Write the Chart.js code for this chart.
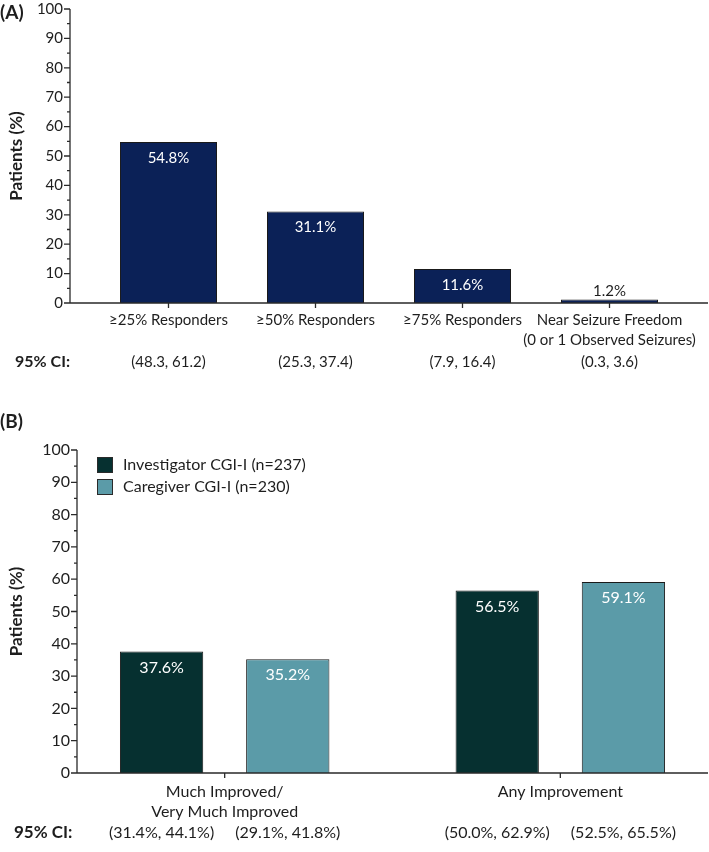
<!DOCTYPE html>
<html>
<head>
<meta charset="utf-8">
<script src="https://cdn.jsdelivr.net/npm/chart.js@4.4.1/dist/chart.umd.min.js"></script>
<style>
  body { margin: 0; background: #fff; }
  #wrap { position: relative; width: 709px; height: 852px; }
  canvas { position: absolute; left: 0; }
  #chartA { top: 0; }
  #chartB { top: 380px; }
</style>
</head>
<body>
<div id="wrap">
  <canvas id="chartA" width="709" height="380"></canvas>
  <canvas id="chartB" width="709" height="472"></canvas>
</div>
<script>
// dados do painel A
const categoriasA = ['≥25% Responders', '≥50% Responders', '≥75% Responders', ['Near Seizure Freedom', '(0 or 1 Observed Seizures)']];
const respondedores = [54.8, 31.1, 11.6, 1.2];
const icA = ['(48.3, 61.2)', '(25.3, 37.4)', '(7.9, 16.4)', '(0.3, 3.6)'];

// dados do painel B
const categoriasB = [['Much Improved/', 'Very Much Improved'], 'Any Improvement'];
const seriesB = ['Investigator CGI-I (n=237)', 'Caregiver CGI-I (n=230)'];
const investigador = [37.6, 56.5];
const cuidador = [35.2, 59.1];
const icInvestigador = ['(31.4%, 44.1%)', '(50.0%, 62.9%)'];
const icCuidador = ['(29.1%, 41.8%)', '(52.5%, 65.5%)'];

const FONTE = 'Lato, "Open Sans", sans-serif';
const TEXTO = '#1e1e1e';
const EIXO = '#2a2a2a';

Chart.defaults.font.family = FONTE;
Chart.defaults.color = TEXTO;

// desenha eixos, ticks menores, rótulos dos valores, IC e legenda
const eixosPlugin = {
    id: 'eixos',
    afterDatasetsDraw(chart, args, opts) {
        var ctx = chart.ctx;
        var area = chart.chartArea;
        var x = chart.scales.x;
        var y = chart.scales.y;
        var tam = opts.tamanho;
        ctx.save();

        ctx.strokeStyle = EIXO;
        ctx.lineWidth = 1.3;
        ctx.beginPath();
        ctx.moveTo(area.left, y.getPixelForValue(100));
        ctx.lineTo(area.left, area.bottom);
        ctx.lineTo(area.right, area.bottom);
        for (var v = 0; v <= 100; v += 5) {
            var py = y.getPixelForValue(v);
            var len = v % 10 === 0 ? 6 : 3;
            ctx.moveTo(area.left - len, py);
            ctx.lineTo(area.left, py);
        }
        x.ticks.forEach(function(t) {
            var px = x.getPixelForValue(t.value);
            ctx.moveTo(px, area.bottom);
            ctx.lineTo(px, area.bottom + 5);
        });
        ctx.stroke();

        // rótulos dos valores nas barras
        ctx.font = tam + 'px ' + FONTE;
        ctx.textAlign = 'center';
        ctx.textBaseline = 'middle';
        chart.data.datasets.forEach(function(ds, d) {
            chart.getDatasetMeta(d).data.forEach(function(bar, i) {
                var val = ds.data[i].y;
                var txt = val.toFixed(1) + '%';
                if (val >= 5) {
                    ctx.fillStyle = '#ffffff';
                    ctx.fillText(txt, bar.x, bar.y + 16);
                } else {
                    ctx.fillStyle = TEXTO;
                    ctx.fillText(txt, bar.x, bar.y - 8);
                }
            });
        });

        // linha do IC 95%
        ctx.fillStyle = TEXTO;
        ctx.font = 'bold ' + (tam + 1) + 'px ' + FONTE;
        ctx.textAlign = 'left';
        ctx.fillText('95% CI:', opts.icX, opts.icY);
        ctx.font = tam + 'px ' + FONTE;
        ctx.textAlign = 'center';
        opts.ic.forEach(function(lista, d) {
            chart.getDatasetMeta(d).data.forEach(function(bar, i) {
                ctx.fillText(lista[i], bar.x, opts.icY);
            });
        });

        // letra do painel
        ctx.font = 'bold 19px ' + FONTE;
        ctx.textAlign = 'left';
        ctx.fillText(opts.painel, 0, opts.painelY);

        // legenda
        if (opts.legenda) {
            ctx.font = tam + 'px ' + FONTE;
            chart.data.datasets.forEach(function(ds, d) {
                var ly = opts.legenda.y + d * 22;
                ctx.fillStyle = ds.backgroundColor;
                ctx.fillRect(opts.legenda.x, ly - 8, 16, 16);
                ctx.strokeStyle = EIXO;
                ctx.lineWidth = 1;
                ctx.strokeRect(opts.legenda.x + 0.5, ly - 7.5, 15, 15);
                ctx.fillStyle = TEXTO;
                ctx.fillText(ds.label, opts.legenda.x + 26, ly);
            });
        }
        ctx.restore();
    }
};

function montarPontos(valores) {
    return valores.map(function(v, i) { return { x: i, y: v }; });
}

function opcoesGrafico(categorias, xMin, xMax, larguraY, alturaX, topo, padX, tam, plugin) {
    plugin.tamanho = tam;
    return {
        responsive: false,
        animation: false,
        layout: { padding: { top: topo, right: 1, left: 0, bottom: 0 } },
        plugins: {
            legend: { display: false },
            tooltip: { enabled: false },
            eixos: plugin
        },
        scales: {
            x: {
                type: 'linear',
                min: xMin,
                max: xMax,
                offset: false,
                grid: { display: false, drawTicks: false },
                border: { display: false },
                afterBuildTicks: function(scale) {
                    scale.ticks = categorias.map(function(c, i) { return { value: i }; });
                },
                afterFit: function(scale) { scale.height = alturaX; },
                ticks: {
                    autoSkip: false,
                    maxRotation: 0,
                    padding: padX,
                    color: TEXTO,
                    font: { size: tam, lineHeight: 20 / tam },
                    callback: function(value) { return categorias[value]; }
                }
            },
            y: {
                min: 0,
                max: 100,
                grid: { display: false, drawTicks: false },
                border: { display: false },
                afterFit: function(scale) {
                    scale.width = larguraY;
                    scale.paddingTop = 0;
                    scale.paddingBottom = 0;
                },
                ticks: { stepSize: 10, padding: 7, color: TEXTO, font: { size: tam } },
                title: {
                    display: true,
                    text: 'Patients (%)',
                    color: TEXTO,
                    font: { size: 17, weight: 'bold' },
                    padding: { top: 6, bottom: 0 }
                }
            }
        }
    };
}

new Chart(document.getElementById('chartA'), {
    type: 'bar',
    data: {
        datasets: [{
            label: 'Responders',
            data: montarPontos(respondedores),
            backgroundColor: '#0b2157',
            borderColor: '#1a1a1a',
            borderWidth: 1,
            categoryPercentage: 1,
            barPercentage: 0.66
        }]
    },
    options: opcoesGrafico(categoriasA, -0.67, 3.67, 70, 77, 9, 7, 15, {
        painel: '(A)', painelY: 13, icX: 15, icY: 362, ic: [icA]
    }),
    plugins: [eixosPlugin]
});

new Chart(document.getElementById('chartB'), {
    type: 'bar',
    data: {
        datasets: [{
            label: seriesB[0],
            data: montarPontos(investigador),
            backgroundColor: '#063030',
            borderColor: '#1a1a1a',
            borderWidth: 1,
            categoryPercentage: 0.752,
            barPercentage: 0.66
        }, {
            label: seriesB[1],
            data: montarPontos(cuidador),
            backgroundColor: '#5b9ba8',
            borderColor: '#1a1a1a',
            borderWidth: 1,
            categoryPercentage: 0.752,
            barPercentage: 0.66
        }]
    },
    options: opcoesGrafico(categoriasB, -0.44, 1.44, 77, 79, 70, 9, 16, {
        painel: '(B)', painelY: 42, icX: 14, icY: 453, ic: [icInvestigador, icCuidador],
        legenda: { x: 97, y: 85 }
    }),
    plugins: [eixosPlugin]
});
</script>
</body>
</html>
